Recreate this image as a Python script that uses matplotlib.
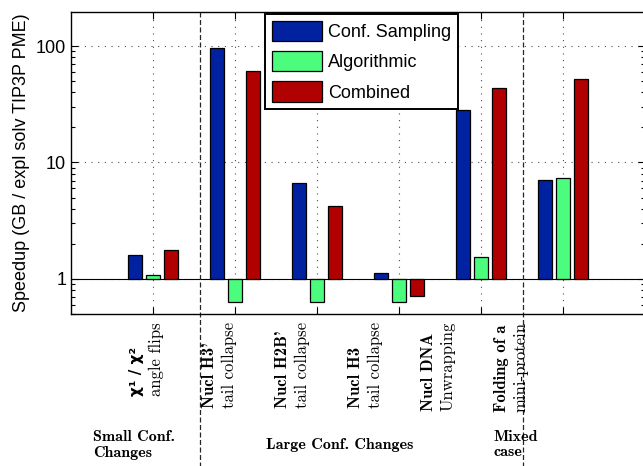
import numpy as np
import matplotlib
matplotlib.use('Agg')
import matplotlib.pyplot as plt
import matplotlib.transforms as mtransforms
from matplotlib.ticker import NullFormatter

plt.rcParams['font.family'] = ['Liberation Sans', 'DejaVu Sans']
plt.rcParams['mathtext.fontset'] = 'cm'

# speedup per test case
series = ['Conf. Sampling', 'Algorithmic', 'Combined']
conf_sampling = [1.61, 97, 6.7, 1.13, 28.2, 7.1]
algorithmic = [1.08, 0.63, 0.63, 0.63, 1.55, 7.3]
combined = [1.77, 61, 4.2, 0.72, 44, 52.5]
colors = ['#0022a0', '#4cfc7c', '#b00000']

case_bold = ['χ¹ / χ²', "Nucl H3'", "Nucl H2B'",
             'Nucl H3', 'Nucl DNA', 'Folding of a']
case_plain = ['angle flips', 'tail collapse', 'tail collapse',
              'tail collapse', 'Unwrapping', 'mini-protein']
groups = ['Small Conf.\nChanges', 'Large Conf. Changes', 'Mixed\ncase']

fig = plt.figure(figsize=(6.43, 4.66), dpi=100)
W, H = 643, 466
ax = fig.add_axes([71 / W, 1 - 314 / H, 574 / W, 302 / H])

x = np.arange(1, len(conf_sampling) + 1)
width = 0.18
for k, (vals, c, name) in enumerate(zip([conf_sampling, algorithmic, combined], colors, series)):
    v = np.array(vals)
    ax.bar(x + (k - 1) * 0.22, v - 1, bottom=1, width=width, color=c,
           edgecolor='k', linewidth=0.9, label=name, zorder=3)

ax.set_yscale('log')
ax.set_ylim(0.5, 196)
ax.set_xlim(0, 7)
ax.set_yticks([1, 10, 100])
ax.set_yticklabels(['1', '10', '100'])
ax.yaxis.set_minor_formatter(NullFormatter())
ax.set_xticks(x)
ax.set_xticklabels([])
ax.tick_params(which='both', direction='in', top=True, right=True, labelsize=13, width=0.8)
ax.tick_params(which='major', length=5)
ax.tick_params(which='minor', length=3)
ax.grid(True, which='major', ls=(0, (1, 5)), color='0.3', lw=0.8, zorder=0)
ax.axhline(1, color='k', lw=0.8, zorder=2)
for s in ax.spines.values():
    s.set_linewidth(1.0)
ax.set_ylabel('Speedup (GB / expl solv TIP3P PME)', fontsize=13)

# separators between case groups
trans = mtransforms.blended_transform_factory(ax.transData, ax.transAxes)
for sx in [1.57, 5.51]:
    ax.plot([sx, sx], [1, -0.52], transform=trans, clip_on=False,
            color='0.15', ls=(0, (4, 2)), lw=0.9)

leg = ax.legend(loc='upper center', bbox_to_anchor=(0.506, 1.0), fontsize=13,
                handlelength=2.8, handleheight=1.35, handletextpad=0.3,
                labelspacing=0.55, borderpad=0.4, borderaxespad=0.1,
                fancybox=False, framealpha=1)
leg.get_frame().set_edgecolor('k')
leg.get_frame().set_linewidth(1.4)

# rotated case labels (bold first line, plain second line)
label_x = [0.92 + 0.89 * i for i in range(len(case_bold))]
pairs = []
for i, (lx, b, p) in enumerate(zip(label_x, case_bold, case_plain)):
    if i == 0:
        bold_font = dict(family='DejaVu Sans', weight='bold', fontsize=11)
    else:
        bold_font = dict(family='cmb10', fontsize=12)
    t1 = ax.annotate(b, xy=(lx, 0), xycoords=('data', 'axes fraction'),
                     xytext=(-9.5, 0), textcoords='offset pixels', rotation=90,
                     ha='center', va='bottom', annotation_clip=False, **bold_font)
    t2 = ax.annotate(p, xy=(lx, 0), xycoords=('data', 'axes fraction'),
                     xytext=(9.5, 0), textcoords='offset pixels', rotation=90,
                     ha='center', va='bottom', family='cmr10', fontsize=12,
                     annotation_clip=False)
    pairs.append((t1, t2))

fig.canvas.draw()
r = fig.canvas.get_renderer()
for t1, t2 in pairs:
    length = max(t1.get_window_extent(r).height, t2.get_window_extent(r).height)
    for t in (t1, t2):
        t.xyann = (t.xyann[0], -(8 + length))

fig.text(93 / W, 1 - 445 / H, groups[0], family='cmb10', fontsize=11.5,
         ha='left', va='center', linespacing=1.1)
fig.text(340 / W, 1 - 445 / H, groups[1], family='cmb10', fontsize=11.5,
         ha='center', va='center')
fig.text(493 / W, 1 - 430 / H, groups[2], family='cmb10', fontsize=11.5,
         ha='left', va='top', linespacing=1.1)

fig.savefig('out.png', dpi=100)
